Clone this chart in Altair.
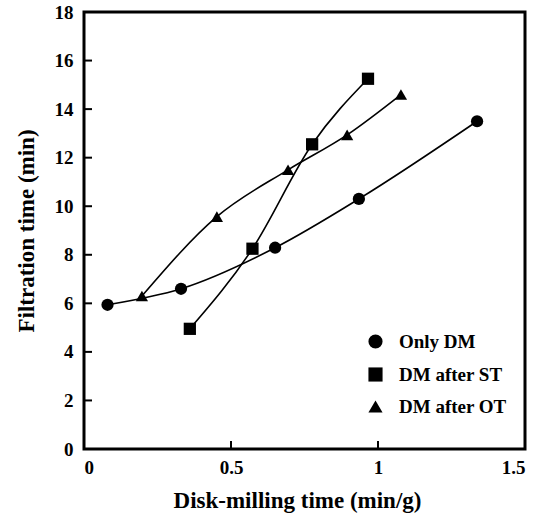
import altair as alt
import pandas as pd

series = ["Only DM", "DM after ST", "DM after OT"]
dm_x = [0.08, 0.33, 0.65, 0.935, 1.337]
dm_y = [5.94, 6.6, 8.29, 10.3, 13.5]
st_x = [0.36, 0.573, 0.776, 0.966]
st_y = [4.95, 8.25, 12.55, 15.25]
ot_x = [0.197, 0.452, 0.694, 0.895, 1.078]
ot_y = [6.3, 9.57, 11.5, 12.94, 14.6]
x_ticks = [0, 0.5, 1, 1.5]
y_ticks = [0, 2, 4, 6, 8, 10, 12, 14, 16, 18]

rows = []
for name, xs, ys in zip(series, [dm_x, st_x, ot_x], [dm_y, st_y, ot_y]):
    for a, b in zip(xs, ys):
        rows.append({"series": name, "x": a, "y": b})
df = pd.DataFrame(rows)

W, H = 441, 437
FONT = "Liberation Serif"

xs = alt.Scale(domain=[0, 1.5], nice=False)
ys = alt.Scale(domain=[0, 18], nice=False)

xaxis = alt.Axis(values=x_ticks, labelExpr="datum.value", ticks=False, grid=False, domain=False,
                 title="Disk-milling time (min/g)", titleFontSize=23, titleFont=FONT, titleFontWeight="bold",
                 labelFont=FONT, labelFontSize=19, labelFontWeight="bold", labelPadding=9, titlePadding=12,
                 titleX=213, titleAlign="center",
                 labelColor="black", titleColor="black")
yaxis = alt.Axis(values=y_ticks, ticks=False, grid=False, domain=False,
                 title="Filtration time (min)", titleFontSize=23, titleFont=FONT, titleFontWeight="bold",
                 labelFont=FONT, labelFontSize=19, labelFontWeight="bold", labelPadding=11, titlePadding=16,
                 labelColor="black", titleColor="black")

base = alt.Chart(df)
lines = base.mark_line(interpolate="monotone", color="black", strokeWidth=1.6).encode(
    x=alt.X("x:Q", scale=xs, axis=xaxis),
    y=alt.Y("y:Q", scale=ys, axis=yaxis),
    detail="series:N",
)
points = base.mark_point(filled=True, opacity=1, color="black", size=150).encode(
    x=alt.X("x:Q", scale=xs),
    y=alt.Y("y:Q", scale=ys),
    shape=alt.Shape("series:N", scale=alt.Scale(domain=series, range=["circle", "square", "triangle-up"]),
                    legend=alt.Legend(title=None, orient="none", legendX=282, legendY=320, padding=0,
                                      labelFont=FONT, labelFontSize=19, labelFontWeight="bold",
                                      labelColor="black", symbolSize=200, symbolFillColor="black",
                                      symbolStrokeColor="black", labelOffset=14, rowPadding=12)),
)

xt = alt.Chart(pd.DataFrame({"v": x_ticks})).mark_rule(color="black", strokeWidth=2).encode(
    x=alt.X("v:Q", scale=xs), y=alt.value(H), y2=alt.value(H - 8))
yt = alt.Chart(pd.DataFrame({"v": y_ticks})).mark_rule(color="black", strokeWidth=2).encode(
    y=alt.Y("v:Q", scale=ys), x=alt.value(0), x2=alt.value(8))

chart = alt.layer(lines, points, xt, yt).properties(
    width=W, height=H,
    background="white",
    autosize=alt.AutoSizeParams(type="none"),
    padding={"left": 84, "top": 12, "right": 19, "bottom": 67},
).configure_view(stroke="black", strokeWidth=3)

chart.save("out.html", embed_options={"renderer": "svg", "actions": False})
